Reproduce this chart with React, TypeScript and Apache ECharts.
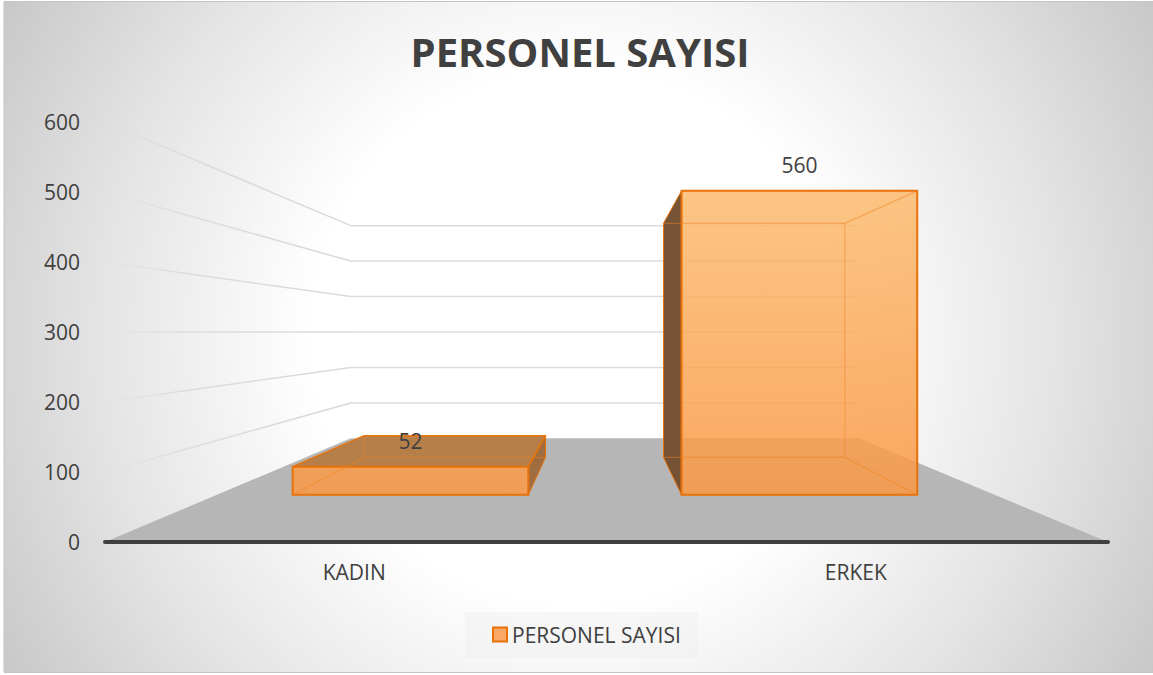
import React, { useEffect, useRef } from "react";
import * as echarts from "echarts";

const categories = ["KADIN", "ERKEK"];
const personel = [52, 560];
const yTicks = [0, 100, 200, 300, 400, 500, 600];
const seriesName = "PERSONEL SAYISI";

const FONT = '"Open Sans", sans-serif';
const WALL_SCALE = 0.5065;
const BAR_FRONT = 0.7755;
const BAR_BACK = 0.597;
const BAR_BAND = 0.303;
const TEXT = "#404040";

function vanishing(cs: any) {
  return { vx: cs.x + 0.4965 * cs.width, vy: cs.y + cs.height / 2 };
}
function project(cs: any, p: number[], s: number) {
  const { vx, vy } = vanishing(cs);
  return [vx + (p[0] - vx) * s, vy + (p[1] - vy) * s];
}

function renderWall(params: any, api: any) {
  const cs = params.coordSys;
  const v = api.value(1);
  const y = api.coord([0, v])[1];
  const fl = [cs.x, y];
  const fr = [cs.x + cs.width, y];
  const bl = project(cs, fl, WALL_SCALE);
  const br = project(cs, fr, WALL_SCALE);
  if (v === 0) {
    return {
      type: "polygon",
      silent: true,
      shape: { points: [fl, fr, br, bl] },
      style: { fill: "#b6b6b6" },
    };
  }
  return {
    type: "group",
    silent: true,
    children: [
      {
        type: "line",
        shape: { x1: fl[0], y1: fl[1], x2: bl[0], y2: bl[1] },
        style: {
          lineWidth: 1.5,
          stroke: {
            type: "linear",
            global: true,
            x: fl[0],
            y: fl[1],
            x2: bl[0],
            y2: bl[1],
            colorStops: [
              { offset: 0, color: "rgba(212,212,212,0)" },
              { offset: 0.35, color: "rgba(212,212,212,0.7)" },
              { offset: 1, color: "rgba(217,217,217,1)" },
            ],
          },
        },
      },
      {
        type: "line",
        shape: { x1: bl[0], y1: bl[1], x2: br[0], y2: br[1] },
        style: { lineWidth: 1.5, stroke: "#dcdcdc" },
      },
    ],
  };
}

function renderBar(params: any, api: any) {
  const cs = params.coordSys;
  const cat = api.value(0);
  const val = api.value(1);
  const band = api.size([1, 0])[0];
  const cx = api.coord([cat, 0])[0] - 1;
  const yTop = api.coord([cat, val])[1];
  const yBot = api.coord([cat, 0])[1];
  const x0 = cx - band * BAR_BAND;
  const x1 = cx + band * BAR_BAND;
  const f = (p: number[]) => project(cs, p, BAR_FRONT);
  const b = (p: number[]) => project(cs, p, BAR_BACK);
  const ftl = f([x0, yTop]), ftr = f([x1, yTop]), fbl = f([x0, yBot]), fbr = f([x1, yBot]);
  const btl = b([x0, yTop]), btr = b([x1, yTop]), bbl = b([x0, yBot]), bbr = b([x1, yBot]);
  const { vx, vy } = vanishing(cs);
  const leftOfCentre = cx < vx;
  const topVisible = ftl[1] > vy && ftl[1] > btl[1];
  const EDGE = "#E8710A";
  const INNER = "rgba(240,130,30,0.45)";
  const maxTop = f([x0, api.coord([cat, 560])[1]])[1];
  const children: any[] = [];
  const line = (a: number[], c: number[], stroke: string, w = 1.2) => ({
    type: "line",
    shape: { x1: a[0], y1: a[1], x2: c[0], y2: c[1] },
    style: { stroke, lineWidth: w },
  });
  // outer side
  children.push({
    type: "polygon",
    shape: { points: leftOfCentre ? [ftr, btr, bbr, fbr] : [ftl, btl, bbl, fbl] },
    style: {
      fill: leftOfCentre ? "rgba(158,106,60,0.97)" : "rgba(115,78,48,0.97)",
      stroke: EDGE,
      lineWidth: 1,
    },
  });
  // top face
  if (topVisible) {
    children.push({
      type: "polygon",
      shape: { points: [ftl, ftr, btr, btl] },
      style: { fill: "rgba(182,125,70,0.97)", stroke: EDGE, lineWidth: 1.5 },
    });
  }
  // front face
  children.push({
    type: "polygon",
    shape: { points: [ftl, ftr, fbr, fbl] },
    style: {
      fill: {
        type: "linear",
        global: true,
        x: 0,
        y: maxTop,
        x2: 0,
        y2: fbl[1],
        colorStops: [
          { offset: 0, color: "rgba(252,187,111,0.85)" },
          { offset: 1, color: "rgba(250,152,69,0.85)" },
        ],
      },
      stroke: EDGE,
      lineWidth: 2,
    },
  });
  // inner edges, seen through the front
  children.push(line(btl, btr, INNER));
  children.push(line(bbl, bbr, INNER));
  children.push(line(leftOfCentre ? btl : btr, leftOfCentre ? bbl : bbr, INNER));
  children.push(line(leftOfCentre ? fbl : fbr, leftOfCentre ? bbl : bbr, INNER));
  if (!leftOfCentre) children.push(line(ftr, btr, INNER));
  children.push({
    type: "text",
    x: (ftl[0] + ftr[0]) / 2,
    y: ftl[1] - 26,
    style: {
      text: String(val),
      font: `21px ${FONT}`,
      fill: TEXT,
      align: "center",
      verticalAlign: "middle",
    },
  });
  return { type: "group", silent: true, children };
}

export default function App() {
  const ref = useRef<HTMLDivElement>(null);
  useEffect(() => {
    const chart = echarts.init(ref.current!, null, { renderer: "svg" });
    chart.setOption({
      animation: false,
      textStyle: { fontFamily: FONT },
      graphic: [
        {
          type: "rect",
          z: -10,
          shape: { x: 4, y: 1.5, width: 1152, height: 671 },
          style: {
            fill: {
              type: "radial",
              global: true,
              x: 578,
              y: 337,
              r: 665,
              colorStops: [
                { offset: 0, color: "#ffffff" },
                { offset: 0.4, color: "#ffffff" },
                { offset: 0.72, color: "#e4e4e4" },
                { offset: 1, color: "#c8c8c8" },
              ],
            },
            stroke: "#c4c4c4",
            lineWidth: 1,
          },
        },
      ],
      title: {
        text: seriesName,
        left: 575,
        top: 26,
        textAlign: "center",
        textStyle: { fontFamily: FONT, fontWeight: "bold", fontSize: 40, color: TEXT },
      },
      legend: {
        left: 465,
        top: 612,
        padding: [12, 17, 13, 27],
        backgroundColor: "rgba(238,238,238,0.4)",
        data: [
          {
            name: seriesName,
            icon: "rect",
            itemStyle: { color: "#F9A865", borderColor: "#E8710A", borderWidth: 2 },
          },
        ],
        itemWidth: 14,
        itemHeight: 14,
        selectedMode: false,
        textStyle: { fontFamily: FONT, fontSize: 21, color: TEXT },
      },
      grid: { left: 105, right: 45, top: 122, bottom: 133 },
      xAxis: {
        type: "category",
        data: categories,
        z: 5,
        axisTick: { show: false },
        axisLine: { lineStyle: { color: "#404040", width: 4, cap: "round" } },
        axisLabel: { margin: 19, fontFamily: FONT, fontSize: 21, color: TEXT, padding: [0, 3, 0, 0] },
      },
      yAxis: {
        type: "value",
        min: 0,
        max: 600,
        interval: 100,
        axisLine: { show: false },
        axisTick: { show: false },
        splitLine: { show: false },
        axisLabel: { margin: 25, fontFamily: FONT, fontSize: 21, color: TEXT, padding: [2, 0, 0, 0] },
      },
      series: [
        {
          type: "custom",
          name: "walls",
          z: 1,
          silent: true,
          renderItem: renderWall,
          encode: { x: 0, y: 1 },
          data: yTicks.map((v) => [0, v]),
        },
        {
          type: "custom",
          name: seriesName,
          z: 3,
          silent: true,
          renderItem: renderBar,
          encode: { x: 0, y: 1 },
          data: personel.map((v, i) => [i, v]),
        },
      ],
    });
    return () => chart.dispose();
  }, []);
  return (
    <div
      ref={ref}
      style={{ position: "absolute", left: 0, top: 0, width: 1153, height: 675 }}
    />
  );
}
